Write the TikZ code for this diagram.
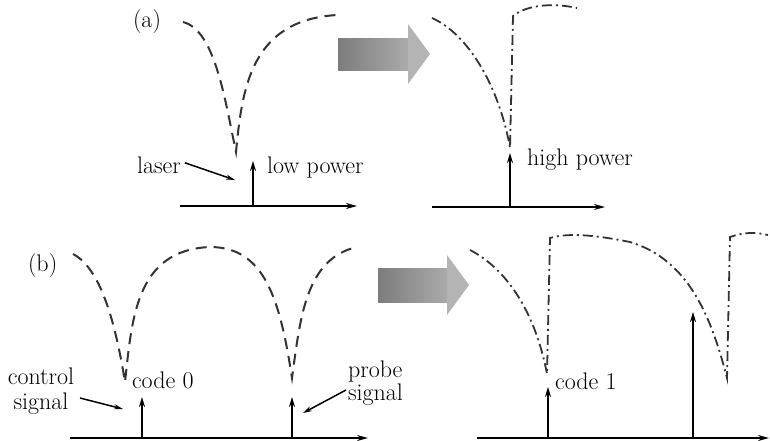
\documentclass[tikz,border=0pt]{standalone}
\usetikzlibrary{arrows.meta}
\definecolor{arrdark}{HTML}{7C7C7C}
\definecolor{arrlight}{HTML}{B4B4B4}
\definecolor{curvecol}{HTML}{333333}
\begin{document}
\begin{tikzpicture}[x=1pt,y=-1pt,
  lbl/.style={font=\fontsize{24}{21}\selectfont, inner sep=0pt, outer sep=0pt},
  axisline/.style={line width=1.7pt,-{Stealth[length=11pt,width=6pt]}},
  sigline/.style={line width=1.7pt,-{Stealth[length=10pt,width=6pt]}},
  ptrline/.style={line width=1.5pt,-{Stealth[length=9pt,width=5pt]}},
  lowcurve/.style={curvecol,line width=2pt,dash pattern=on 11pt off 7pt},
  highcurve/.style={curvecol,line width=1.8pt,dash pattern=on 10pt off 4pt on 2pt off 4pt},
  bigarrowshaft/.style={left color=arrdark,right color=arrlight!95!black},
  bigarrowhead/.style={fill=arrlight}]
\useasboundingbox (0,0) rectangle (770,440);

% ---------------- panel (a) ----------------
\node[lbl,anchor=base west] (la) at (133,27) {(a)};
% low-power resonance (dashed)
\draw[lowcurve] (183,22) .. controls (215,30) and (225,100) .. (236,152)
  .. controls (242,90) and (250,20) .. (337,15);
% axis and signal
\coordinate (a0) at (180,206);
\coordinate (a1) at (357,206);
\draw[axisline] (a0) -- (a1);
\coordinate (sa0) at (253,206);
\coordinate (sa1) at (253,161);
\draw[sigline] (sa0) -- (sa1);
\node[lbl,anchor=base west] (laser) at (137,173) {laser};
\coordinate (lasertip) at (235,180);
\draw[ptrline] (laser.east) ++(4,-2) coordinate (laserfrom) -- (lasertip);
\node[lbl,anchor=base west] (lowp) at (267,173) {low power};

% big arrow (a)
\shade[bigarrowshaft] (338,38) rectangle (409,70);
\fill[bigarrowhead] (408,24) -- (430,54) -- (408,84) -- cycle;

% high-power resonance (dash-dot)
\draw[highcurve] (432,18) .. controls (470,35) and (500,90) .. (510,148)
  -- (513,16) .. controls (525,6) and (550,2) .. (577,8);
\coordinate (b0) at (432,207);
\coordinate (b1) at (605,207);
\draw[axisline] (b0) -- (b1);
\coordinate (sb0) at (510,207);
\coordinate (sb1) at (510,153);
\draw[sigline] (sb0) -- (sb1);
\node[lbl,anchor=base west] (highp) at (527,165) {high power};

% ---------------- panel (b) ----------------
\node[lbl,anchor=base west] (lb) at (28,271) {(b)};
\draw[lowcurve] (73,254) .. controls (100,268) and (115,320) .. (125,382)
  .. controls (132,320) and (135,250) .. (210,247)
  .. controls (265,247) and (280,300) .. (292,378)
  .. controls (300,320) and (305,262) .. (353,248);
\coordinate (c0) at (70,438);
\coordinate (c1) at (368,438);
\draw[axisline] (c0) -- (c1);
\coordinate (sc0) at (142,438);
\coordinate (sc1) at (142,397);
\draw[sigline] (sc0) -- (sc1);
\coordinate (sd0) at (292,438);
\coordinate (sd1) at (292,397);
\draw[sigline] (sd0) -- (sd1);
\node[lbl,anchor=base west] (code0) at (132,388) {code 0};
\node[lbl,anchor=base] (ctrla) at (41,384) {control};
\node[lbl,anchor=base] (ctrlb) at (41,409) {signal};
\coordinate (ctrlfrom) at (80,398);
\coordinate (ctrltip) at (123,409);
\draw[ptrline] (ctrlfrom) -- (ctrltip);
\node[lbl,anchor=base west] (probea) at (348,377) {probe};
\node[lbl,anchor=base west] (probeb) at (348,400) {signal};
\coordinate (probefrom) at (346,390);
\coordinate (probetip) at (303,413);
\draw[ptrline] (probefrom) -- (probetip);

% big arrow (b)
\shade[bigarrowshaft] (378,268) rectangle (448,302);
\fill[bigarrowhead] (447,255) -- (469,285) -- (447,315) -- cycle;

% switched state (dash-dot)
\draw[highcurve] (470,250) .. controls (505,268) and (535,310) .. (547,374)
  -- (550,238) .. controls (570,232) and (600,236) .. (630,242)
  .. controls (690,260) and (712,320) .. (727,378)
  -- (730,237) .. controls (745,232) and (755,232) .. (768,235);
\coordinate (d0) at (477,438);
\coordinate (d1) at (769,438);
\draw[axisline] (d0) -- (d1);
\coordinate (se0) at (548,438);
\coordinate (se1) at (548,387);
\draw[sigline] (se0) -- (se1);
\coordinate (sf0) at (693,438);
\coordinate (sf1) at (693,312);
\draw[sigline] (sf0) -- (sf1);
\node[lbl,anchor=base west] (code1) at (555,389) {code 1};
\end{tikzpicture}
\end{document}
